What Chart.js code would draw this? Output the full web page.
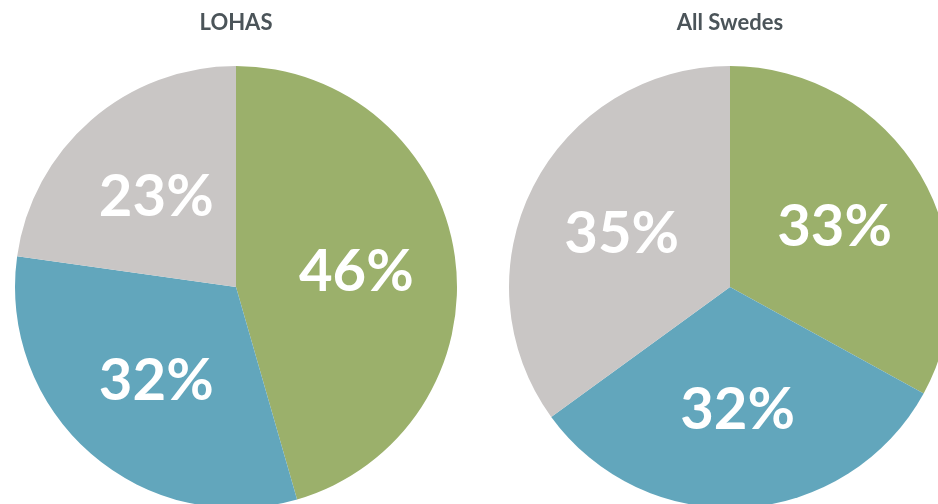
<!DOCTYPE html>
<html><head><meta charset="utf-8">
<script src="https://cdn.jsdelivr.net/npm/chart.js@4"></script>
<style>
html,body{margin:0;padding:0;background:#fff;width:938px;height:504px;overflow:hidden;position:relative}
.box{position:absolute;top:0;width:472px;height:508px}
</style></head><body>
<div class="box" style="left:0"><canvas id="c1"></canvas></div>
<div class="box" style="left:494px"><canvas id="c2"></canvas></div>
<script>
const categories = ["Green", "Blue", "Grey"];
const lohasValues = [46, 32, 23];
const swedesValues = [33, 32, 35];
const titles = ["LOHAS", "All Swedes"];
const colors = ["#9bb06b", "#62a6bc", "#c9c6c5"];

const labelPlugin = {
  id: 'pctLabels',
  afterDatasetsDraw(chart) {
    const ctx = chart.ctx;
    const meta = chart.getDatasetMeta(0);
    const data = chart.data.datasets[0].data;
    ctx.save();
    ctx.fillStyle = '#ffffff';
    const fs = 58;
    ctx.font = '700 ' + fs + 'px Lato';
    ctx.textAlign = 'center';
    ctx.textBaseline = 'alphabetic';
    const cap = fs * 0.72;
    meta.data.forEach((arc, i) => {
      const p = arc.getProps(['x','y','startAngle','endAngle','outerRadius'], true);
      const mid = (p.startAngle + p.endAngle) / 2;
      const r = p.outerRadius * 0.55;
      ctx.fillText(data[i] + '%', p.x + Math.cos(mid) * r, p.y + Math.sin(mid) * r + cap / 2);
    });
    ctx.restore();
  }
};

function makePie(id, title, values) {
  new Chart(document.getElementById(id), {
    type: 'pie',
    data: { labels: categories, datasets: [{ data: values, backgroundColor: colors, borderWidth: 0 }] },
    options: {
      responsive: true, maintainAspectRatio: false, animation: false,
      layout: { padding: { left: 15, right: 15, top: 0, bottom: 0 } },
      plugins: {
        legend: { display: false },
        tooltip: { enabled: false },
        title: { display: true, text: title, color: '#4b5459',
          font: { family: 'Lato', size: 22, weight: '700', lineHeight: 1.2 },
          padding: { top: 10, bottom: 29.6 } }
      }
    },
    plugins: [labelPlugin]
  });
}
makePie('c1', titles[0], lohasValues);
makePie('c2', titles[1], swedesValues);
</script>
</body></html>
